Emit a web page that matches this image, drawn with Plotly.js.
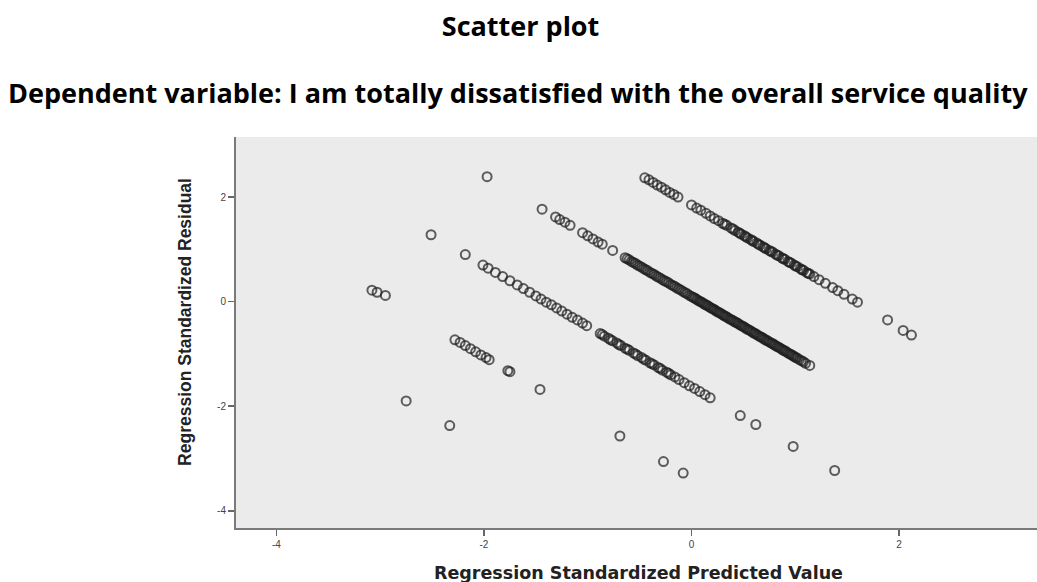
<!DOCTYPE html>
<html>
<head>
<meta charset="utf-8">
<script src="https://cdn.plot.ly/plotly-3.0.1.min.js"></script>
<style>html,body{margin:0;padding:0;background:#fff;}#chart{width:1037px;height:582px;}</style>
</head>
<body>
<div id="chart"></div>
<script>
// Regression Standardized Predicted Value (x) and Standardized Residual (y)
const lineA_x = [-0.45,-0.41,-0.37,-0.33,-0.29,-0.25,-0.21,-0.17,-0.13,
  0.00,0.05,0.09,0.14,0.18,0.22,0.26,0.30,0.34,0.38,0.42,0.45,0.48,0.51,0.54,0.57,0.60,0.63,0.66,0.69,0.72,0.75,0.78,0.81,0.84,0.87,0.90,0.93,0.96,0.99,1.02,1.05,1.08,1.11,1.14,1.18,1.23,1.29,1.36,1.41,1.47,1.55,1.60,
  1.89,2.04,2.12,
  0.32,0.40,0.465,0.525,0.585,0.645,0.705,0.765,0.825,0.885,0.945,1.005,1.065,1.125];
const lineA_y = [2.37,2.33,2.28,2.23,2.19,2.14,2.09,2.05,2.00,
  1.85,1.79,1.75,1.69,1.64,1.59,1.55,1.50,1.46,1.41,1.36,1.33,1.29,1.26,1.22,1.19,1.15,1.12,1.08,1.05,1.01,0.98,0.95,0.91,0.88,0.84,0.81,0.77,0.74,0.70,0.67,0.63,0.60,0.56,0.53,0.48,0.42,0.35,0.27,0.21,0.14,0.05,-0.01,
  -0.35,-0.55,-0.64,
  1.48,1.39,1.31,1.24,1.17,1.10,1.03,0.96,0.89,0.82,0.75,0.68,0.61,0.54];

const lineB_x = [-1.97,-1.44,-1.31,-1.27,-1.22,-1.17,-1.05,-1.00,-0.95,-0.90,-0.86,-0.76,
  -0.64,-0.60,-0.56,-0.52,-0.48,-0.44,-0.40,-0.36,-0.32,-0.28,-0.24,-0.20,-0.16,-0.12,-0.08,-0.04,0.00,0.03,0.06,0.09,0.12,0.15,0.18,0.21,0.24,0.27,0.30,0.33,0.36,0.39,0.42,0.45,0.48,0.51,0.54,0.57,0.60,0.63,0.66,0.69,0.72,0.75,0.78,0.81,0.84,0.87,0.90,0.93,0.96,0.99,1.02,1.06,1.10,1.14,
  -0.62,-0.58,-0.54,-0.50,-0.46,-0.42,-0.38,-0.34,-0.30,-0.26,-0.22,-0.18,-0.14,-0.10,-0.06,-0.02,0.015,0.045,0.075,0.105,0.135,0.165,0.195,0.225,0.255,0.285,0.315,0.345,0.375,0.405,0.435,0.465,0.495,0.525,0.555,0.585,0.615,0.645,0.675,0.705,0.735,0.765,0.795,0.825,0.855,0.885,0.915,0.945,0.975,1.005,1.04,1.08];
const lineB_y = [2.39,1.77,1.62,1.57,1.52,1.46,1.32,1.26,1.20,1.14,1.10,0.98,
  0.84,0.80,0.75,0.70,0.66,0.61,0.56,0.52,0.47,0.42,0.38,0.33,0.29,0.24,0.19,0.15,0.10,0.07,0.03,0.00,-0.04,-0.07,-0.11,-0.14,-0.18,-0.21,-0.25,-0.28,-0.32,-0.35,-0.39,-0.42,-0.46,-0.49,-0.53,-0.56,-0.60,-0.63,-0.67,-0.70,-0.74,-0.77,-0.80,-0.84,-0.87,-0.91,-0.94,-0.98,-1.01,-1.05,-1.08,-1.13,-1.18,-1.22,
  0.82,0.77,0.73,0.68,0.63,0.59,0.54,0.49,0.45,0.40,0.36,0.31,0.26,0.22,0.17,0.12,0.08,0.05,0.01,-0.02,-0.06,-0.09,-0.13,-0.16,-0.20,-0.23,-0.27,-0.30,-0.34,-0.37,-0.40,-0.44,-0.47,-0.51,-0.54,-0.58,-0.61,-0.65,-0.68,-0.72,-0.75,-0.79,-0.82,-0.86,-0.89,-0.93,-0.96,-1.00,-1.03,-1.07,-1.11,-1.15];

const lineC_x = [-2.51,-2.18,
  -2.01,-1.96,-1.89,-1.82,-1.75,-1.68,-1.62,-1.56,-1.50,-1.45,-1.40,-1.35,-1.30,-1.25,-1.20,-1.15,-1.10,-1.05,-1.01,
  -0.88,-0.84,-0.80,-0.76,-0.72,-0.68,-0.64,-0.60,-0.56,-0.52,-0.48,-0.44,-0.40,-0.36,-0.32,-0.28,-0.24,-0.20,-0.16,-0.12,-0.07,-0.02,0.03,0.08,0.13,0.18,
  0.47,0.62,0.98,1.38,
  -0.86,-0.78,-0.70,-0.62,-0.54,-0.46,-0.38,-0.30,-0.22];
const lineC_y = [1.28,0.90,
  0.70,0.64,0.56,0.48,0.40,0.32,0.25,0.18,0.11,0.05,-0.01,-0.06,-0.12,-0.18,-0.24,-0.30,-0.35,-0.41,-0.46,
  -0.61,-0.66,-0.70,-0.75,-0.79,-0.84,-0.89,-0.93,-0.98,-1.03,-1.07,-1.12,-1.17,-1.21,-1.26,-1.31,-1.35,-1.40,-1.44,-1.49,-1.55,-1.61,-1.66,-1.72,-1.78,-1.84,
  -2.18,-2.35,-2.77,-3.23,
  -0.63,-0.73,-0.82,-0.91,-1.00,-1.10,-1.19,-1.28,-1.37];

const lineD_x = [-3.08,-3.03,-2.95,-2.28,-2.23,-2.18,-2.13,-2.08,-2.03,-1.98,-1.95,-1.77,-1.75,-1.46,-0.69,-0.27,-0.08];
const lineD_y = [0.22,0.18,0.12,-0.73,-0.78,-0.84,-0.90,-0.96,-1.02,-1.07,-1.11,-1.32,-1.34,-1.68,-2.57,-3.06,-3.28];

const lineE_x = [-2.75,-2.33];
const lineE_y = [-1.90,-2.37];

const xTicks = [-4,-2,0,2];
const yTicks = [-4,-2,0,2];

const xAll = [].concat(lineA_x, lineB_x, lineC_x, lineD_x, lineE_x);
const yAll = [].concat(lineA_y, lineB_y, lineC_y, lineD_y, lineE_y);

const trace = {
  x: xAll, y: yAll, type: 'scatter', mode: 'markers',
  marker: {symbol: 'circle-open', size: 9, color: 'rgba(30,30,30,0.7)', line: {width: 2, color: 'rgba(30,30,30,0.7)'}},
  hoverinfo: 'x+y', showlegend: false
};

const layout = {
  width: 1037, height: 582,
  margin: {l: 236, r: 0, t: 137, b: 54},
  paper_bgcolor: '#ffffff', plot_bgcolor: '#ebebeb',
  font: {family: 'Liberation Sans, Arial, sans-serif', color: '#333'},
  title: {text: '<b>Scatter plot</b>', x: 0.502, xref: 'container', xanchor: 'center', y: 0.955, yref: 'container', yanchor: 'middle',
    font: {family: 'Open Sans, sans-serif', size: 27, color: '#000'}},
  xaxis: {range: [-4.39, 3.33], tickvals: xTicks, ticktext: xTicks.map(String), ticks: 'outside', ticklen: 6, tickwidth: 1.5, tickcolor: '#666',
    showline: true, linecolor: '#7a7a7a', linewidth: 2, showgrid: false, zeroline: false, tickfont: {size: 10, color: '#444'}},
  yaxis: {range: [-4.33, 3.15], tickvals: yTicks, ticktext: yTicks.map(String), ticks: 'outside', ticklen: 6, tickwidth: 1.5, tickcolor: '#666',
    showline: true, linecolor: '#7a7a7a', linewidth: 2, showgrid: false, zeroline: false, tickfont: {size: 10, color: '#444'}},
  annotations: [
    {text: '<b>Dependent variable: I am totally dissatisfied with the overall service quality</b>', xref: 'paper', yref: 'paper',
      x: 0.352, y: 1.115, xanchor: 'center', yanchor: 'middle', showarrow: false,
      font: {family: 'Open Sans, sans-serif', size: 27, color: '#000'}},
    {text: '<b>Regression Standardized Predicted Value</b>', xref: 'paper', yref: 'paper',
      x: 0.502, y: -0.115, xanchor: 'center', yanchor: 'middle', showarrow: false,
      font: {family: 'DejaVu Sans, sans-serif', size: 17.5, color: '#222'}},
    {text: '<b>Regression Standardized Residual</b>', xref: 'paper', yref: 'paper',
      x: -0.0637, y: 0.527, xanchor: 'center', yanchor: 'middle', showarrow: false, textangle: -90,
      font: {family: 'Liberation Sans, Arial, sans-serif', size: 17.5, color: '#222'}}
  ]
};

Plotly.newPlot('chart', [trace], layout, {displayModeBar: false, staticPlot: true});
</script>
</body>
</html>
